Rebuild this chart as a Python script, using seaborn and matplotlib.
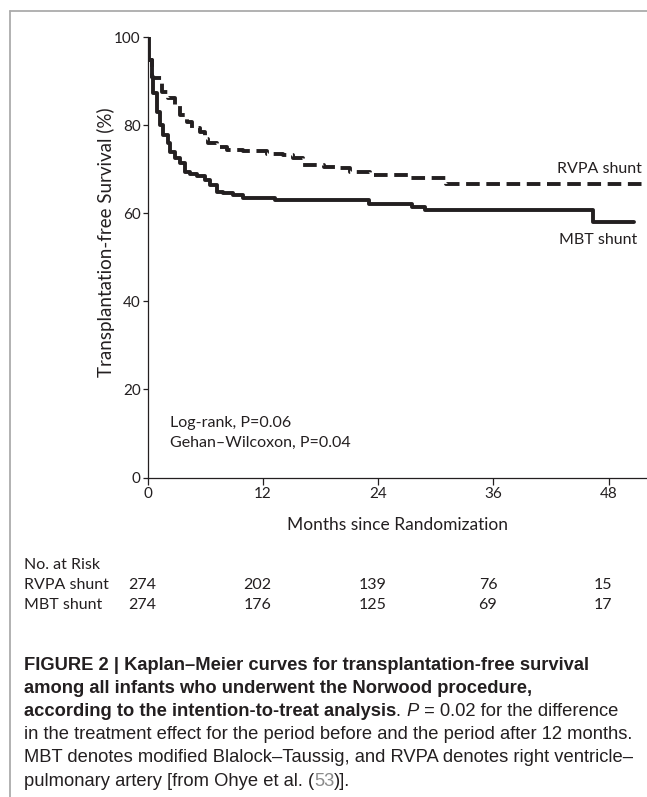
import numpy as np
import pandas as pd
import matplotlib
matplotlib.use('Agg')
import matplotlib.pyplot as plt
from matplotlib.lines import Line2D
import seaborn as sns

# Kaplan-Meier step points (months, % survival)
rvpa_months = [0, 0.03, 0.38, 0.55, 1.43, 2.12, 2.81, 3.33, 4.03, 4.55, 5.42, 5.94, 6.28,
               7.15, 8.2, 9.93, 12.4, 14.1, 15.1, 16.2, 18.3, 20.0, 21.0, 23.1, 27.3, 31.1, 52.0]
rvpa_surv = [100, 94.8, 91.0, 90.7, 87.6, 86.1, 84.6, 82.3, 80.8, 79.3, 78.5, 77.0, 75.9,
             75.1, 74.5, 74.2, 73.6, 73.2, 72.5, 71.0, 70.6, 70.2, 69.5, 68.7, 68.0, 66.6, 66.6]
mbt_months = [0, 0.14, 0.38, 0.55, 0.90, 1.25, 1.60, 2.12, 2.29, 2.81, 3.33, 3.85, 4.38,
              5.07, 5.94, 6.46, 7.15, 7.85, 8.89, 9.93, 11.3, 13.2, 23.0, 27.5, 28.9, 46.4, 50.6]
mbt_surv = [100, 94.8, 91.0, 87.3, 83.1, 80.1, 77.8, 75.9, 74.0, 72.5, 71.4, 69.5, 68.9,
            68.5, 67.6, 66.4, 64.9, 64.7, 64.2, 63.6, 63.4, 63.0, 62.1, 61.5, 60.8, 58.1, 58.1]

risk_months = [0, 12, 24, 36, 48]
rvpa_risk = [274, 202, 139, 76, 15]
mbt_risk = [274, 176, 125, 69, 17]

df = pd.concat([
    pd.DataFrame({'month': rvpa_months, 'surv': rvpa_surv, 'arm': 'RVPA shunt'}),
    pd.DataFrame({'month': mbt_months, 'surv': mbt_surv, 'arm': 'MBT shunt'}),
])

sns.set_style('ticks')
plt.rcParams['font.family'] = ['Lato', 'DejaVu Sans']
ink = '#231f20'

fig = plt.figure(figsize=(6.47, 7.97), dpi=100)
ax = fig.add_axes([148 / 647, 1 - 477.5 / 797, 499 / 647, 440.2 / 797])

sns.lineplot(data=df, x='month', y='surv', style='arm', units='arm', estimator=None,
             dashes={'RVPA shunt': (3.5, 1.7), 'MBT shunt': ''}, color=ink,
             linewidth=2.8, drawstyle='steps-post', legend=False, ax=ax)

ax.set_xlim(0, 52)
ax.set_ylim(0, 100)
ax.set_xticks(risk_months)
ax.set_yticks([0, 20, 40, 60, 80, 100])
ax.tick_params(axis='both', labelsize=11, colors=ink, width=0.9)
ax.tick_params(axis='y', length=3.8, pad=1.5)
ax.tick_params(axis='x', length=5, pad=2)
for s in ['top', 'right']:
    ax.spines[s].set_visible(False)
for s in ['left', 'bottom']:
    ax.spines[s].set_color(ink)
    ax.spines[s].set_linewidth(0.9)
ax.set_xlabel('Months since Randomization', fontsize=12.5, color=ink, labelpad=11)
ax.set_ylabel('Transplantation-free Survival (%)', fontsize=13.5, color=ink)
ax.yaxis.set_label_coords(-0.066, 0.535)

ax.text(0.99, 0.700, 'RVPA shunt', transform=ax.transAxes, ha='right', va='center', fontsize=11.5, color=ink)
ax.text(0.98, 0.540, 'MBT shunt', transform=ax.transAxes, ha='right', va='center', fontsize=11.5, color=ink)
ax.text(2.3, 12.3, 'Log-rank, P=0.06', ha='left', va='center', fontsize=11.5, color=ink)
ax.text(2.3, 7.9, 'Gehan\u2013Wilcoxon, P=0.04', ha='left', va='center', fontsize=11.5, color=ink)

# number at risk table
left = 24 / 647
fig.text(left, 1 - 565 / 797, 'No. at Risk', ha='left', va='center', fontsize=11.5, color=ink)
row_y = [1 - 585 / 797, 1 - 605 / 797]
for yy, name, counts in zip(row_y, ['RVPA shunt', 'MBT shunt'], [rvpa_risk, mbt_risk]):
    fig.text(left, yy, name, ha='left', va='center', fontsize=11.5, color=ink)
    for m, c in zip(risk_months, counts):
        xf = ax.transData.transform((m, 0))[0] / fig.bbox.width - 5.5 / 647
        fig.text(xf, yy, str(c), ha='center', va='center', fontsize=11.5, color=ink)

# caption
cap_font = ['Liberation Sans', 'DejaVu Sans']
cap_size = 13.2
lines = [
    [('FIGURE 2 | Kaplan\u2013Meier curves for transplantation-free survival', 'bold', 'normal', ink)],
    [('among all infants who underwent the Norwood procedure,', 'bold', 'normal', ink)],
    [('according to the intention-to-treat analysis', 'bold', 'normal', ink),
     ('. ', 'normal', 'normal', ink), ('P', 'normal', 'italic', ink),
     (' = 0.02 for the difference', 'normal', 'normal', ink)],
    [('in the treatment effect for the period before and the period after 12 months.', 'normal', 'normal', ink)],
    [('MBT denotes modified Blalock\u2013Taussig, and RVPA denotes right ventricle\u2013', 'normal', 'normal', ink)],
    [('pulmonary artery [from Ohye et al. (', 'normal', 'normal', ink),
     ('53', 'normal', 'normal', '#8a8a8a'), (')].', 'normal', 'normal', ink)],
]
y0 = 665
for i, parts in enumerate(lines):
    prev = None
    for txt, wt, st, col in parts:
        if prev is None:
            prev = fig.text(left, 1 - (y0 + 23.2 * i) / 797, txt, ha='left', va='center',
                            fontsize=cap_size, fontweight=wt, fontstyle=st, color=col, family=cap_font)
        else:
            prev = ax.annotate(txt, xy=(1, 0), xycoords=prev, ha='left', va='bottom',
                               fontsize=cap_size, fontweight=wt, fontstyle=st, color=col,
                               family=cap_font, annotation_clip=False)

# grey frame at top and left
frame = '#ababab'
fig.add_artist(Line2D([10 / 647, 10 / 647], [0, 1 - 11 / 797], transform=fig.transFigure, color=frame, lw=1.3))
fig.add_artist(Line2D([10 / 647, 1], [1 - 11 / 797, 1 - 11 / 797], transform=fig.transFigure, color=frame, lw=1.3))

fig.savefig('out.png', dpi=100)
